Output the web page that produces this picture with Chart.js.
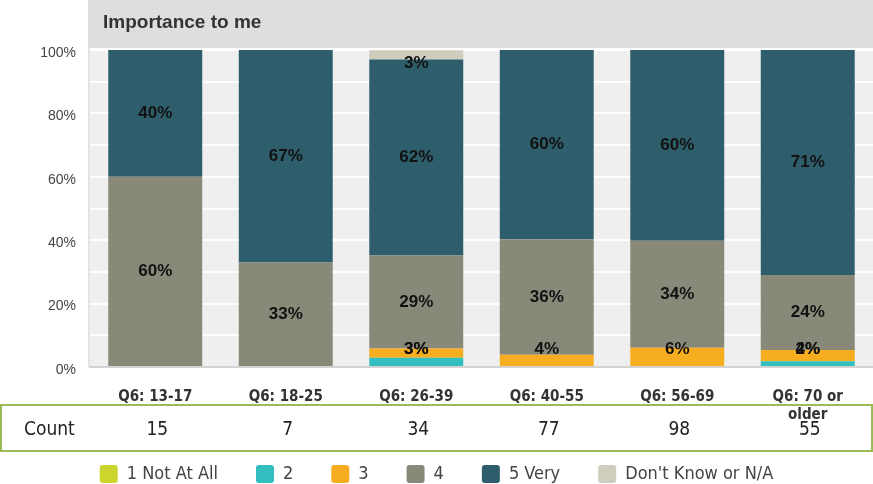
<!DOCTYPE html>
<html>
<head>
<meta charset="utf-8">
<script src="https://cdn.jsdelivr.net/npm/chart.js@4.4.1/dist/chart.umd.min.js"></script>
<style>
    html, body { margin: 0; padding: 0; background: #fff; }
    #wrap { position: relative; width: 873px; height: 484px; }
    #countBox {
        position: absolute; left: 0; top: 404px; width: 869px; height: 44px;
        border: 2px solid #9bbb59;
        font-family: "Liberation Sans Narrow", "Arial Narrow", "DejaVu Sans Condensed", sans-serif;
        font-size: 19px; color: #222;
    }
    #countBox span { position: absolute; top: 11px; transform: translateX(-50%); }
    #countBox .lbl { left: 22px; transform: none; }
</style>
</head>
<body>
<div id="wrap">
    <canvas id="chart" width="873" height="484"></canvas>
    <div id="countBox"><span class="lbl">Count</span></div>
</div>
<script>
// --- data (percent of respondents per age group) ---
const categories = ['Q6: 13-17', 'Q6: 18-25', 'Q6: 26-39', 'Q6: 40-55', 'Q6: 56-69', ['Q6: 70 or', 'older']];
const counts = [15, 7, 34, 77, 98, 55];
const notAtAll = [0, 0, 0, 0, 0, 0];
const two      = [0, 0, 2.9, 0, 0, 1.8];
const three    = [0, 0, 2.9, 3.9, 6.1, 3.6];
const four     = [60, 33, 29.4, 36.4, 33.7, 23.6];
const fiveVery = [40, 67, 61.8, 59.7, 60.2, 71.0];
const dontKnow = [0, 0, 2.9, 0, 0, 0];
const yTicks = [0, 20, 40, 60, 80, 100];

const narrow = '"Liberation Sans Narrow", "Arial Narrow", "DejaVu Sans Condensed", sans-serif';

// count cells, placed under each category using the x scale
const countBox = document.getElementById('countBox');
const countSpans = counts.map(c => {
    const s = document.createElement('span');
    s.innerText = c;
    countBox.appendChild(s);
    return s;
});

// background: title band + grey plot area
const backdrop = {
    id: 'backdrop',
    beforeDraw(chart) {
        const { ctx, chartArea: a } = chart;
        ctx.save();
        ctx.fillStyle = '#dedede';
        ctx.fillRect(a.left - 2, 0, chart.width - a.left + 2, a.top - 2);
        ctx.fillStyle = '#e4e4e4';
        ctx.fillRect(a.left - 2, a.top - 2, 2, a.bottom - a.top + 2);
        ctx.fillStyle = '#efefef';
        ctx.fillRect(a.left, a.top, a.right - a.left, a.bottom - a.top);
        ctx.fillStyle = '#333';
        ctx.font = 'bold 19px Arial, "Liberation Sans", sans-serif';
        ctx.textBaseline = 'middle';
        ctx.fillText('Importance to me', a.left + 13, 23);
        ctx.restore();
    },
    afterLayout(chart) {
        const x = chart.scales.x;
        countSpans.forEach((s, i) => { s.style.left = x.getPixelForValue(i) + 'px'; });
    }
};

// percentage labels in each segment
const segLabels = {
    id: 'segLabels',
    afterDatasetsDraw(chart) {
        const { ctx, chartArea: a } = chart;
        ctx.save();
        ctx.fillStyle = '#111';
        ctx.font = 'bold 17px Arial, "Liberation Sans", sans-serif';
        ctx.textAlign = 'center';
        ctx.textBaseline = 'middle';
        chart.data.datasets.forEach((ds, di) => {
            chart.getDatasetMeta(di).data.forEach((bar, i) => {
                const v = ds.data[i];
                if (!v) return;
                let y = (bar.y + bar.base) / 2;
                y = Math.max(a.top + 13, Math.min(a.bottom - 18, y));
                ctx.fillText(Math.round(v) + '%', bar.x, y);
            });
        });
        ctx.restore();
    }
};

const mk = (label, data, color) => ({ label, data, backgroundColor: color, borderWidth: 0 });

new Chart(document.getElementById('chart'), {
    type: 'bar',
    data: {
        labels: categories,
        datasets: [
            mk('1 Not At All', notAtAll, '#cbd52c'),
            mk('2', two, '#33bec0'),
            mk('3', three, '#f6ad1f'),
            mk('4', four, '#888978'),
            mk('5 Very', fiveVery, '#2e5e6b'),
            mk("Don't Know or N/A", dontKnow, '#cfcdbd')
        ]
    },
    options: {
        responsive: false,
        animation: false,
        layout: { padding: { top: 50, right: 0, left: 0, bottom: -9 } },
        datasets: { bar: { barPercentage: 0.72, categoryPercentage: 1 } },
        scales: {
            x: {
                stacked: true,
                grid: { display: false },
                border: { color: '#d3d3d3', width: 2 },
                ticks: { color: '#333', padding: 13, maxRotation: 0, font: { family: narrow, size: 15, weight: 'bold', lineHeight: 1.2 } },
                afterFit(s) { s.height = 60; }
            },
            y: {
                stacked: true,
                min: 0, max: 100,
                afterBuildTicks(s) { s.ticks = Array.from({ length: 11 }, (_, k) => ({ value: k * 10 })); },
                grid: { color: '#ffffff', lineWidth: 2, drawTicks: false },
                border: { display: false },
                ticks: {
                    color: '#444', padding: 14, labelOffset: 3,
                    font: { family: 'Arial, "Liberation Sans", sans-serif', size: 14 },
                    callback: v => yTicks.includes(v) ? v + '%' : ''
                },
                afterFit(s) { s.width = 90; }
            }
        },
        plugins: {
            legend: {
                position: 'bottom',
                labels: {
                    boxWidth: 18, boxHeight: 18, padding: 38, color: '#444',
                    useBorderRadius: true, borderRadius: 3,
                    font: { family: narrow, size: 18 }
                }
            },
            tooltip: { enabled: false }
        }
    },
    plugins: [backdrop, segLabels]
});
</script>
</body>
</html>
